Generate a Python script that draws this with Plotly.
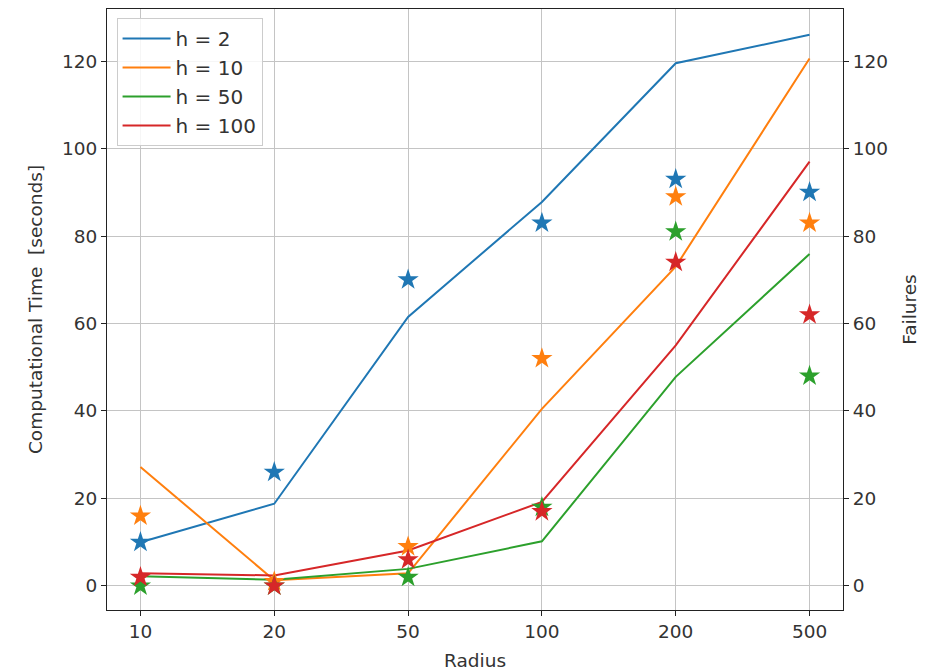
import plotly.graph_objects as go

radius = ["10", "20", "50", "100", "200", "500"]
series_names = ["h = 2", "h = 10", "h = 50", "h = 100"]
colors = ["#1f77b4", "#ff7f0e", "#2ca02c", "#d62728"]

# Computational time [seconds] (lines, left axis)
time_h2 = [10.0, 18.8, 61.5, 87.8, 119.5, 126.0]
time_h10 = [27.2, 1.3, 2.9, 40.5, 73.0, 120.6]
time_h50 = [2.2, 1.4, 3.9, 10.2, 47.8, 75.9]
time_h100 = [2.9, 2.4, 8.1, 19.2, 55.0, 97.0]

# Failures (stars, right axis)
fail_h2 = [10, 26, 70, 83, 93, 90]
fail_h10 = [16, 1, 9, 52, 89, 83]
fail_h50 = [0, 0, 2, 18, 81, 48]
fail_h100 = [2, 0, 6, 17, 74, 62]

times = [time_h2, time_h10, time_h50, time_h100]
fails = [fail_h2, fail_h10, fail_h50, fail_h100]

yticks = [0, 20, 40, 60, 80, 100, 120]
yrange = [-5.5, 131.9]

FONT = "DejaVu Sans"
FS = 18.5
TXT = "#333333"
fig = go.Figure()

for name, col, t in zip(series_names, colors, times):
    fig.add_trace(go.Scatter(x=radius, y=t, mode="lines", name=name,
                             line=dict(color=col, width=2), yaxis="y"))

for name, col, f in zip(series_names, colors, fails):
    fig.add_trace(go.Scatter(x=radius, y=f, mode="markers", name=name,
                             showlegend=False, yaxis="y2",
                             marker=dict(symbol="star", size=16, color=col,
                                         line=dict(width=0))))

axis_common = dict(
    showline=True, linecolor="#222222", linewidth=1,
    ticks="outside", ticklen=5, tickcolor="#222222",
    tickfont=dict(family=FONT, size=FS, color=TXT),
    showgrid=True, gridcolor="#c4c4c4", gridwidth=1, zeroline=False,
    automargin=False,
)

fig.update_layout(
    width=927, height=672,
    margin=dict(l=107, r=84, t=9, b=62),
    paper_bgcolor="white", plot_bgcolor="white",
    font=dict(family=FONT, size=FS, color=TXT),
    xaxis=dict(type="category", range=[-0.25, 5.25], mirror=True,
               title=dict(text="Radius", font=dict(family=FONT, size=FS, color=TXT), standoff=12),
               **axis_common),
    yaxis=dict(range=yrange, tickvals=yticks,
               title=dict(text="Computational Time \u00a0[seconds]",
                          font=dict(family=FONT, size=FS, color=TXT), standoff=14),
               **axis_common),
    yaxis2=dict(range=yrange, tickvals=yticks, overlaying="y", side="right",
                title=dict(text="Failures", font=dict(family=FONT, size=FS, color=TXT), standoff=16),
                **axis_common),
    legend=dict(x=0.013, y=0.985, xanchor="left", yanchor="top",
                bgcolor="rgba(255,255,255,0.85)", bordercolor="#cccccc", borderwidth=1,
                font=dict(family=FONT, size=20, color=TXT),
                tracegroupgap=0, itemwidth=48),
    showlegend=True,
)

fig.write_html("out.html")
